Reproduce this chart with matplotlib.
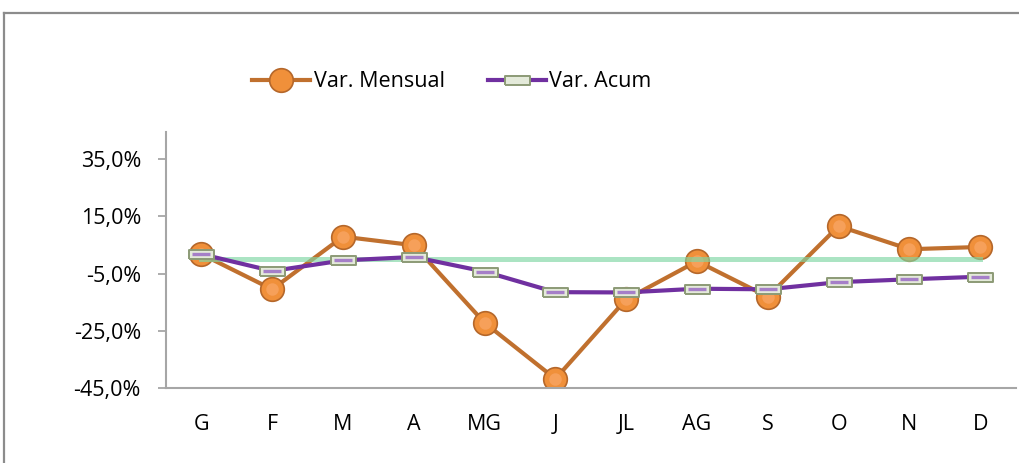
import matplotlib.pyplot as plt
from matplotlib.lines import Line2D
from matplotlib.ticker import FuncFormatter

plt.rcParams['font.family'] = ['Open Sans', 'DejaVu Sans']

months = ['G', 'F', 'M', 'A', 'MG', 'J', 'JL', 'AG', 'S', 'O', 'N', 'D']
var_mensual = [1.8, -10.5, 7.9, 4.9, -22.2, -41.8, -14.0, -0.7, -13.1, 11.6, 3.5, 4.3]
var_acum = [1.8, -4.1, -0.4, 0.8, -4.3, -11.5, -11.6, -10.3, -10.5, -8.0, -7.0, -6.1]
zero_line = [0.0] * 12
y_ticks = [-45, -25, -5, 15, 35]

fig = plt.figure(figsize=(10.2, 4.63), dpi=100)
ax = fig.add_axes([0.1627, 0.162, 0.833, 0.553])

x = range(len(months))

# orange monthly series
ax.plot(x, var_mensual, color='#C0702E', lw=3, marker='o', ms=17,
        mfc='#F0903A', mec='#B5672A', mew=1.2, zorder=2, label='Var. Mensual')
# soft highlight on the balls
ax.plot(x, var_mensual, ls='none', marker='o', ms=9, mfc='#F6A05A',
        mec='none', zorder=2.5)

# zero reference line
ax.plot(x, zero_line, color='#7ED6A4', alpha=0.65, lw=3.6,
        solid_capstyle='projecting', zorder=3)

# accumulated series with flat rectangular markers
rect = [(-1, -0.36), (1, -0.36), (1, 0.36), (-1, 0.36), (-1, -0.36)]
ax.plot(x, var_acum, color='#7030A0', lw=3, marker=rect, ms=18,
        mfc='#E4EADA', mec='#8C9A76', mew=1.4, zorder=4, label='Var. Acum')
ax.plot(x, var_acum, ls='none', marker='_', ms=13, mew=2.4,
        color='#A57FC8', zorder=5)

ax.set_xlim(-0.5, 11.5)
ax.set_ylim(-45, 44.5)
ax.set_yticks(y_ticks)
ax.yaxis.set_major_formatter(FuncFormatter(lambda v, p: f'{v:.1f}%'.replace('.', ',')))
ax.set_xticks(list(x))
ax.set_xticklabels(months)

for s in ['top', 'right']:
    ax.spines[s].set_visible(False)
for s in ['left', 'bottom']:
    ax.spines[s].set_color('#A6A6A6')
    ax.spines[s].set_linewidth(1.5)

ax.tick_params(axis='x', length=0, pad=19, labelsize=15.5)
ax.tick_params(axis='y', length=6, width=1.3, color='#A6A6A6', pad=12, labelsize=15.5)

handles, labels = ax.get_legend_handles_labels()
fig.legend(handles, labels, loc='center', bbox_to_anchor=(0.443, 0.823),
           ncol=2, frameon=False, fontsize=15.5, handlelength=2.7,
           handletextpad=0.15, columnspacing=2.0)

# outer chart frame
fig.add_artist(Line2D([0.004, 1.0], [0.972, 0.972], color='#8C8C8C', lw=1.6,
                      transform=fig.transFigure))
fig.add_artist(Line2D([0.004, 0.004], [0.0, 0.972], color='#8C8C8C', lw=1.6,
                      transform=fig.transFigure))

fig.savefig('out.png', dpi=100)
